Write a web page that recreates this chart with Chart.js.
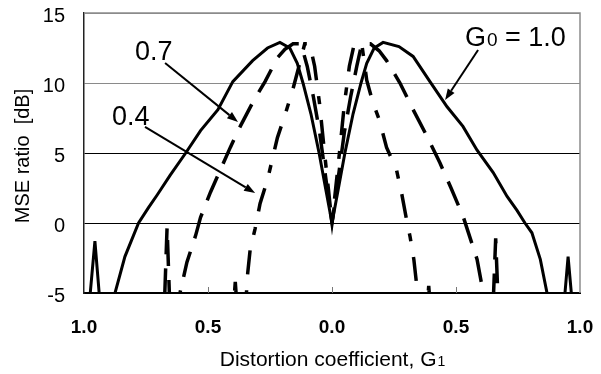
<!DOCTYPE html>
<html>
<head>
<meta charset="utf-8">
<script src="https://cdn.jsdelivr.net/npm/chart.js@4.4.1/dist/chart.umd.min.js"></script>
<style>
  html, body { margin: 0; padding: 0; background: #fff; }
</style>
</head>
<body>
<canvas id="chart" width="601" height="374"></canvas>
<script>
// values below -5 run off the bottom of the plot (clipped)
// G0 = 1.0 (solid)
const g1Solid = [-1.0, -0.99, -0.956, -0.925, -0.89, -0.875, -0.835, -0.78, -0.74, -0.705, -0.653, -0.59, -0.53, -0.46, -0.40, -0.32, -0.26, -0.21, -0.17, -0.14, -0.117, -0.085, -0.052, -0.025, 0,
  0.025, 0.052, 0.085, 0.117, 0.14, 0.17, 0.206, 0.27, 0.327, 0.395, 0.464, 0.528, 0.585, 0.65, 0.706, 0.746, 0.778, 0.806, 0.84, 0.867, 0.88, 0.925, 0.952, 0.98, 1.0];
const mseSolid = [-8, -8, -1.3, -8, -8, -5, -2.4, 0, 1.1, 2.0, 3.4, 5, 6.6, 8.1, 10.1, 11.6, 12.5, 12.9, 12.5, 11.4, 10, 7.8, 5, 2.4, 0,
  2.4, 5, 7.8, 10, 11.4, 12.5, 12.9, 12.6, 11.9, 10.1, 8.3, 6.9, 5.2, 3.6, 1.9, 0.9, 0, -0.7, -2.6, -5, -8, -8, -2.4, -8, -8];

// G0 = 0.7 (dashed)
const g1Dash = [-1.0, -0.68, -0.665, -0.65, -0.625, -0.613, -0.585, -0.55, -0.53, -0.49, -0.45, -0.41, -0.37, -0.32, -0.27, -0.22, -0.19, -0.157, -0.125, -0.1, -0.075, -0.05, -0.025, 0,
  0.025, 0.05, 0.075, 0.1, 0.12, 0.155, 0.19, 0.22, 0.274, 0.327, 0.38, 0.435, 0.48, 0.53, 0.585, 0.61, 0.625, 0.645, 0.66, 0.675, 1.0];
const mseDash = [-8, -8, -0.3, -8, -8, -5, -2.8, -0.9, 0.4, 2.2, 3.8, 5.4, 6.9, 8.6, 10.1, 11.8, 12.4, 12.8, 12.8, 11.2, 9, 6.5, 3.2, 0,
  3.2, 6.5, 9, 11.2, 12.8, 12.8, 12.3, 11.6, 10, 8.1, 6.3, 4.3, 2.5, 0.4, -2.6, -5, -8, -8, -1.1, -8, -8];

// G0 = 0.4 (dash-dot)
const g1DashDot = [-1.0, -0.405, -0.39, -0.375, -0.355, -0.345, -0.34, -0.33, -0.31, -0.29, -0.26, -0.24, -0.22, -0.19, -0.16, -0.13, -0.11, -0.09, -0.07, -0.05, -0.03, -0.015, 0,
  0.015, 0.03, 0.05, 0.07, 0.09, 0.12, 0.14, 0.165, 0.19, 0.22, 0.26, 0.28, 0.30, 0.315, 0.33, 0.345, 0.355, 0.375, 0.39, 0.405, 1.0];
const mseDashDot = [-8, -8, -4.2, -8, -8, -5, -3.6, -1.9, -0.4, 1.4, 3.1, 4.6, 6.1, 7.7, 9.4, 11.4, 12.8, 12.8, 11.2, 8.5, 5, 2.5, 0,
  2.5, 5, 8.5, 11.2, 12.8, 12.8, 10.2, 8.6, 7.4, 5.4, 3.8, 2.2, 0.3, -1, -2.6, -5, -8, -8, -4.5, -8, -8];

const xTicks = [-1, -0.5, 0, 0.5, 1];
const yTicks = [-5, 0, 5, 10, 15];

const family = '"Liberation Sans", Arial, sans-serif';

// label anchors and arrows, in data units
const notes = [
  { text: '0.7', at: [-0.794, 11.64], from: [-0.673, 11.43], to: [-0.379, 7.21] },
  { text: '0.4', at: [-0.887, 7.0], from: [-0.754, 6.86], to: [-0.31, 2.14] },
  { text: 'G', sub: '0', rest: ' = 1.0', at: [0.536, 12.64], from: [0.589, 12.36], to: [0.456, 8.79] }
];

function pairs(xs, ys) {
  return xs.map((x, i) => ({ x: x, y: ys[i] }));
}

function drawArrow(ctx, x0, y0, x1, y1) {
  const ang = Math.atan2(y1 - y0, x1 - x0);
  const head = 11, half = 4;
  const bx = x1 - head * Math.cos(ang);
  const by = y1 - head * Math.sin(ang);
  ctx.beginPath();
  ctx.moveTo(x0, y0);
  ctx.lineTo(bx, by);
  ctx.stroke();
  ctx.beginPath();
  ctx.moveTo(x1, y1);
  ctx.lineTo(bx + half * Math.sin(ang), by - half * Math.cos(ang));
  ctx.lineTo(bx - half * Math.sin(ang), by + half * Math.cos(ang));
  ctx.closePath();
  ctx.fill();
}

const framePlugin = {
  id: 'frame',
  beforeDatasetsDraw(chart) {
    const { ctx, chartArea: a, scales } = chart;
    ctx.save();
    ctx.strokeStyle = '#8c8c8c';
    ctx.lineWidth = 1.5;
    ctx.beginPath();
    ctx.moveTo(a.left, a.top);
    ctx.lineTo(a.right, a.top);
    ctx.lineTo(a.right, a.bottom);
    ctx.stroke();
    // small inward ticks on the bottom axis
    ctx.lineWidth = 1;
    ctx.strokeStyle = '#777';
    xTicks.slice(1, -1).forEach(v => {
      const px = Math.round(scales.x.getPixelForValue(v)) + 0.5;
      ctx.beginPath();
      ctx.moveTo(px, a.bottom);
      ctx.lineTo(px, a.bottom - 6);
      ctx.stroke();
    });
    ctx.restore();
  },
  afterDatasetsDraw(chart) {
    const { ctx, scales: { x, y } } = chart;
    ctx.save();
    ctx.fillStyle = '#000';
    ctx.strokeStyle = '#000';
    ctx.lineWidth = 2;
    ctx.textBaseline = 'alphabetic';
    ctx.textAlign = 'left';
    notes.forEach(n => {
      drawArrow(ctx, x.getPixelForValue(n.from[0]), y.getPixelForValue(n.from[1]),
        x.getPixelForValue(n.to[0]), y.getPixelForValue(n.to[1]));
      let px = x.getPixelForValue(n.at[0]);
      const py = y.getPixelForValue(n.at[1]);
      ctx.font = '27px ' + family;
      ctx.fillText(n.text, px, py);
      if (n.sub) {
        px += ctx.measureText(n.text).width + 1;
        ctx.font = '19px ' + family;
        ctx.fillText(n.sub, px, py);
        px += ctx.measureText(n.sub).width;
        ctx.font = '27px ' + family;
        ctx.fillText(n.rest, px, py);
      }
    });

    // axis titles
    ctx.font = '20px ' + family;
    ctx.textAlign = 'center';
    ctx.textBaseline = 'middle';
    ctx.save();
    ctx.translate(23, 156);
    ctx.rotate(-Math.PI / 2);
    ctx.fillText('MSE ratio  [dB]', 0, 0);
    ctx.restore();

    ctx.textAlign = 'left';
    ctx.textBaseline = 'alphabetic';
    const main = 'Distortion coefficient, G';
    ctx.font = '21px ' + family;
    const w1 = ctx.measureText(main).width;
    ctx.font = '14px ' + family;
    const w2 = ctx.measureText('1').width;
    const cx = (x.left + x.right) / 2;
    const start = cx - (w1 + w2) / 2;
    ctx.font = '21px ' + family;
    ctx.fillText(main, start, 366);
    ctx.font = '14px ' + family;
    ctx.fillText('1', start + w1 + 1, 366);
    ctx.restore();
  }
};

const line = (xs, ys, dash, width) => ({
  data: pairs(xs, ys),
  showLine: true,
  borderColor: '#000',
  backgroundColor: '#000',
  borderWidth: width,
  borderDash: dash,
  pointRadius: 0,
  tension: 0,
  fill: false
});

new Chart(document.getElementById('chart'), {
  type: 'scatter',
  data: {
    datasets: [
      line(g1Solid, mseSolid, [], 3),
      line(g1Dash, mseDash, [26, 14], 3.5),
      line(g1DashDot, mseDashDot, [24, 16, 8, 16], 3.5)
    ]
  },
  options: {
    responsive: false,
    animation: false,
    layout: { padding: { top: 13, right: 21, left: 0, bottom: 0 } },
    plugins: { legend: { display: false }, tooltip: { enabled: false } },
    scales: {
      x: {
        type: 'linear',
        min: -1,
        max: 1,
        afterBuildTicks: s => { s.ticks = xTicks.map(v => ({ value: v })); },
        afterFit: s => { s.height = 81; s.paddingLeft = 0; s.paddingRight = 0; },
        grid: { display: false },
        border: { display: true, color: '#000', width: 2 },
        ticks: {
          callback: v => Math.abs(v).toFixed(1),
          font: { size: 19, weight: 'bold', family: family },
          color: '#000',
          padding: 15,
          maxRotation: 0
        }
      },
      y: {
        min: -5,
        max: 15,
        afterBuildTicks: s => { s.ticks = yTicks.map(v => ({ value: v })); },
        afterFit: s => { s.width = 84; s.paddingTop = 0; s.paddingBottom = 0; },
        grid: {
          drawTicks: false,
          lineWidth: 1,
          color: c => (c.tick && (c.tick.value === 10 || c.tick.value === 15)) ? '#8a8a8a' : '#000'
        },
        border: { display: true, color: '#222', width: 1.5 },
        ticks: {
          font: { size: 20, family: family },
          color: '#000',
          padding: 19,
          labelOffset: 3
        }
      }
    }
  },
  plugins: [framePlugin]
});
</script>
</body>
</html>
